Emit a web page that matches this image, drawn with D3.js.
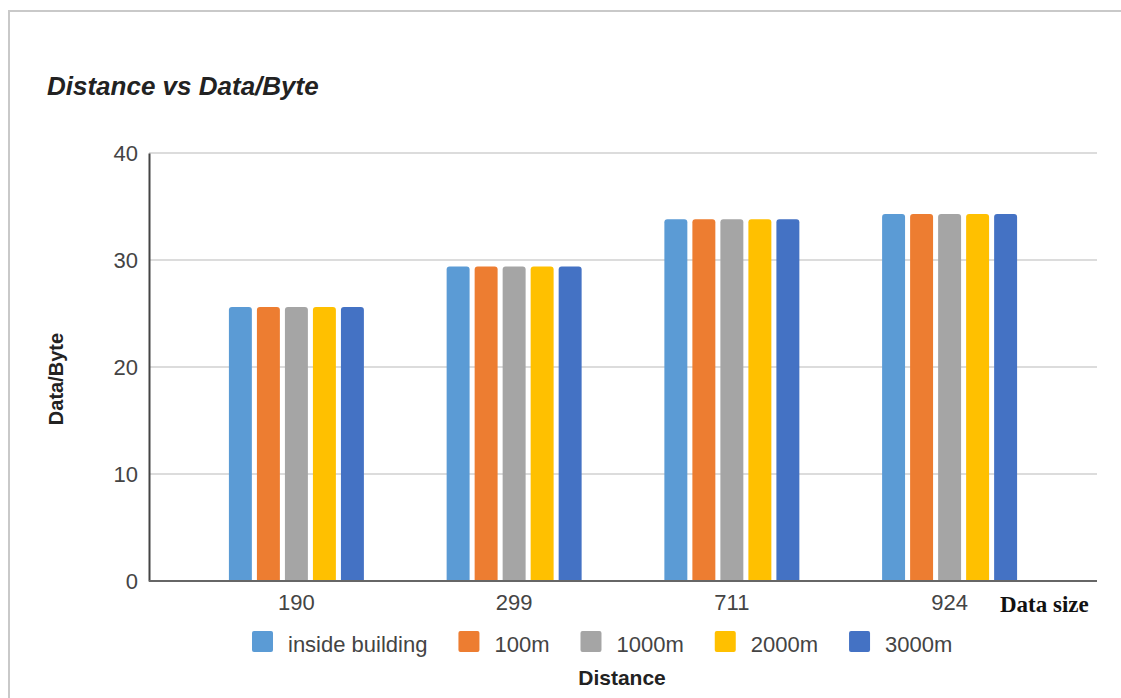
<!DOCTYPE html>
<html>
<head>
<meta charset="utf-8">
<script src="https://cdn.jsdelivr.net/npm/d3@7"></script>
<style>
  body { margin: 0; background: #fff; }
  svg { display: block; }
</style>
</head>
<body>
<div id="chart"></div>
<script>
// chart data
const sizes = ["190", "299", "711", "924"];
const series = ["inside building", "100m", "1000m", "2000m", "3000m"];
const values = [25.6, 29.4, 33.8, 34.3];   // same value for every distance
const yTicks = [0, 10, 20, 30, 40];
const colors = ["#5b9bd5", "#ed7d31", "#a5a5a5", "#ffc000", "#4472c4"];

const width = 1121, height = 698;
const margin = { top: 153, right: 24, bottom: 117, left: 149 };

const svg = d3.select("#chart")
  .append("svg")
  .attr("width", width)
  .attr("height", height);

// outer frame of the screenshot
svg.append("path")
  .attr("d", `M9,${height} L9,11 L${width},11`)
  .attr("fill", "none")
  .attr("stroke", "#c9c9c9")
  .attr("stroke-width", 2);

const xScale = d3.scaleBand()
  .domain(sizes)
  .range([margin.left, width - margin.right])
  .paddingInner(0.38)
  .paddingOuter(0.367);

const xInner = d3.scaleBand()
  .domain(series)
  .range([0, xScale.bandwidth()])
  .paddingInner(0.18)
  .paddingOuter(0);

const yScale = d3.scaleLinear()
  .domain([0, 40])
  .range([height - margin.bottom, margin.top]);

const color = d3.scaleOrdinal().domain(series).range(colors);

// gridlines
svg.append("g")
  .selectAll("line")
  .data(yTicks.slice(1))
  .enter()
  .append("line")
    .attr("x1", margin.left)
    .attr("x2", width - margin.right)
    .attr("y1", d => yScale(d))
    .attr("y2", d => yScale(d))
    .attr("stroke", "#dcdcdc")
    .attr("stroke-width", 2);

// bars
const groups = svg.append("g")
  .selectAll("g")
  .data(sizes)
  .enter()
  .append("g")
    .attr("transform", d => `translate(${xScale(d)},0)`);

groups.selectAll("path")
  .data((d, i) => series.map(s => ({ key: s, value: values[i] })))
  .enter()
  .append("path")
    .attr("fill", d => color(d.key))
    .attr("d", d => {
      const x0 = xInner(d.key), w = xInner.bandwidth();
      const y0 = yScale(d.value), y1 = yScale(0), r = 3;
      return `M${x0},${y1} L${x0},${y0 + r} Q${x0},${y0} ${x0 + r},${y0}
              L${x0 + w - r},${y0} Q${x0 + w},${y0} ${x0 + w},${y0 + r} L${x0 + w},${y1} Z`;
    });

// y-axis
const yAxis = svg.append("g")
  .attr("transform", `translate(${margin.left},0)`)
  .call(d3.axisLeft(yScale).tickValues(yTicks).tickSize(0).tickPadding(11))
  .attr("font-family", "Liberation Sans, Arial, sans-serif")
  .attr("font-size", "22px");
yAxis.select(".domain").attr("stroke", "#444").attr("stroke-width", 2);
yAxis.selectAll("text").attr("fill", "#444");

// x-axis
const xAxis = svg.append("g")
  .attr("transform", `translate(0,${height - margin.bottom})`)
  .call(d3.axisBottom(xScale).tickSize(0).tickPadding(13))
  .attr("font-family", "Liberation Sans, Arial, sans-serif")
  .attr("font-size", "22px");
xAxis.select(".domain")
  .attr("d", `M${margin.left},0H${width - margin.right}`)
  .attr("stroke", "#666")
  .attr("stroke-width", 2);
xAxis.selectAll("text").attr("fill", "#444");

// title
svg.append("text")
  .attr("x", 47)
  .attr("y", 95)
  .attr("font-family", "Liberation Sans, Arial, sans-serif")
  .attr("font-size", "26px")
  .attr("font-weight", "bold")
  .attr("font-style", "italic")
  .attr("fill", "#222")
  .text("Distance vs Data/Byte");

// y label
svg.append("text")
  .attr("transform", "translate(63,379) rotate(-90)")
  .attr("text-anchor", "middle")
  .attr("font-family", "Liberation Sans, Arial, sans-serif")
  .attr("font-size", "20px")
  .attr("font-weight", "bold")
  .attr("fill", "#222")
  .text("Data/Byte");

// x label
svg.append("text")
  .attr("x", 622)
  .attr("y", 685)
  .attr("text-anchor", "middle")
  .attr("font-family", "Liberation Sans, Arial, sans-serif")
  .attr("font-size", "21px")
  .attr("font-weight", "bold")
  .attr("fill", "#222")
  .text("Distance");

// "Data size" note at the end of the x axis
svg.append("text")
  .attr("x", 1000)
  .attr("y", 612)
  .attr("font-family", "Liberation Serif, Times New Roman, serif")
  .attr("font-size", "23px")
  .attr("font-weight", "bold")
  .attr("fill", "#111")
  .text("Data size");

// legend
const legend = svg.append("g")
  .attr("font-family", "Liberation Sans, Arial, sans-serif")
  .attr("font-size", "22px");
let lx = 252;
series.forEach(s => {
  legend.append("rect")
    .attr("x", lx)
    .attr("y", 631)
    .attr("width", 21)
    .attr("height", 21)
    .attr("rx", 2)
    .attr("fill", color(s));
  const t = legend.append("text")
    .attr("x", lx + 36)
    .attr("y", 652)
    .attr("fill", "#444")
    .text(s);
  lx += 36 + t.node().getComputedTextLength() + 31;
});
</script>
</body>
</html>
